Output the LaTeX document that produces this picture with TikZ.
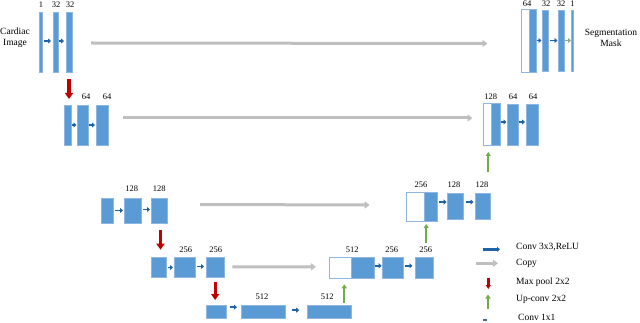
\documentclass[tikz,border=0pt]{standalone}
\usepackage{fontspec}
\setmainfont{Liberation Serif}
\usetikzlibrary{arrows.meta,calc}
\definecolor{barfill}{HTML}{5B9BD5}
\definecolor{baredge}{HTML}{8DB6E2}
\definecolor{convc}{HTML}{1F63A6}
\definecolor{copyc}{HTML}{BFBFBF}
\definecolor{poolc}{HTML}{C00000}
\definecolor{upc}{HTML}{70AD47}
\definecolor{onec}{HTML}{8FB08A}
\newcommand{\blk}[6][bar]{\node[#1, minimum width={(#4-#3)*1pt}, minimum height={(#6-#5)*1pt}] (#2) at ({(#3+#4)/2},{(#5+#6)/2}) {};}
\begin{document}
\begin{tikzpicture}[x=1pt,y=-1pt,
  bar/.style={draw=baredge, fill=barfill, line width=0.6pt, inner sep=0pt, outer sep=0pt, rectangle},
  wbar/.style={draw=baredge, fill=white, line width=0.8pt, inner sep=0pt, outer sep=0pt, rectangle},
  lab/.style={font=\fontsize{8.5}{9}\selectfont, inner sep=0pt},
  txt/.style={font=\fontsize{9.5}{11}\selectfont, inner sep=0pt, align=center},
  ltxt/.style={font=\fontsize{9.5}{11}\selectfont, inner sep=0pt, anchor=west},
  conv/.style={draw=convc, line width=1.8pt, -{Triangle[length=3pt,width=5pt]}},
  one/.style={draw=onec, line width=1.8pt, -{Triangle[length=3pt,width=5pt]}},
  copy/.style={draw=copyc, line width=3pt, -{Triangle[length=5pt,width=7pt]}},
  pool/.style={draw=poolc, line width=3.2pt, -{Triangle[length=6pt,width=8pt]}},
  up/.style={draw=upc, line width=2pt, -{Triangle[length=4pt,width=5pt]}}
]
\useasboundingbox (0,0) rectangle (640,323);

% ---------- level 1 left
\blk{L1a}{39.5}{42}{12}{72}
\blk{L1b}{53}{58.5}{12}{72}
\blk{L1c}{66}{72}{12}{72}
\node[lab] (t1a) at (41,5) {1};
\node[lab] (t1b) at (56,5) {32};
\node[lab] (t1c) at (70,5) {32};
\node[txt] (cin) at (15,37.5) {Cardiac\\Image};
\draw[conv] ($(L1a.east)+(2,-1)$) -- ($(L1b.west)+(-2,-1)$);
\draw[conv] ($(L1b.east)+(0.5,-1)$) -- ($(L1c.west)+(-2,-1)$);

% ---------- level 1 right
\blk[wbar]{R1w}{521.5}{529}{9}{72}
\blk{R1b}{529}{536}{9}{72}
\blk{R1c}{542}{548.5}{10}{71}
\blk{R1d}{558.5}{564.5}{10}{71}
\blk{R1e}{571.5}{573.5}{10}{71}
\node[lab] (t1w) at (527,4) {64};
\node[lab] (t1x) at (546,4) {32};
\node[lab] (t1y) at (561,4) {32};
\node[lab] (t1z) at (572.5,4) {1};
\node[txt] (cout) at (611,37.5) {Segmentation\\Mask};
\draw[conv] ($(R1b.east)+(0.5,0)$) -- ($(R1c.west)+(-0.5,0)$);
\draw[conv] ($(R1c.east)+(1,0)$) -- ($(R1d.west)+(-1,0)$);
\draw[one] ($(R1d.east)+(0.5,0)$) -- ($(R1e.west)+(-0.5,0)$);

% ---------- level 2 left
\blk{L2a}{64}{71}{105}{145}
\blk{L2b}{77}{88}{105}{145}
\blk{L2c}{96}{108}{105}{145}
\node[lab] (t2b) at (86,97) {64};
\node[lab] (t2c) at (107,97) {64};
\draw[conv] ($(L2a.east)+(0.5,0)$) -- ($(L2b.west)+(-0.5,0)$);
\draw[conv] ($(L2b.east)+(1,0)$) -- ($(L2c.west)+(-1,0)$);

% ---------- level 2 right
\blk[wbar]{R2w}{483.5}{491}{103}{145}
\blk{R2b}{491}{500}{103}{145}
\blk{R2c}{507}{518}{104}{145}
\blk{R2d}{526}{538}{104}{145}
\node[lab] (t2w) at (490.7,97) {128};
\node[lab] (t2x) at (513,97) {64};
\node[lab] (t2y) at (533,97) {64};
\draw[conv] ($(R2b.east)+(0.5,-2)$) -- ($(R2c.west)+(-0.5,-2.5)$);
\draw[conv] ($(R2c.east)+(1,-2.5)$) -- ($(R2d.west)+(-1,-2.5)$);

% ---------- level 3 left
\blk{L3a}{101}{113}{198}{223}
\blk{L3b}{124}{141}{198}{223}
\blk{L3c}{151}{167}{198}{223}
\node[lab] (t3b) at (131.7,189) {128};
\node[lab] (t3c) at (159.3,189) {128};
\draw[conv] ($(L3a.east)+(2,0)$) -- ($(L3b.west)+(-1,0)$);
\draw[conv] ($(L3b.east)+(2,-1)$) -- ($(L3c.west)+(-1,-1)$);

% ---------- level 3 right
\blk[wbar]{R3w}{406.7}{424.3}{192}{221}
\blk{R3b}{424.3}{437.7}{192}{221}
\blk{R3c}{447.7}{463.3}{193}{219}
\blk{R3d}{475}{490}{193}{219}
\node[lab] (t3w) at (421,185) {256};
\node[lab] (t3x) at (454,185) {128};
\node[lab] (t3y) at (482,185) {128};
\draw[conv] ($(R3b.east)+(1,-4.5)$) -- ($(R3c.west)+(-1,-4)$);
\draw[conv] ($(R3c.east)+(3,-4)$) -- ($(R3d.west)+(-1.5,-4)$);

% ---------- level 4 left
\blk{L4a}{151.7}{166.7}{257.7}{277.3}
\blk{L4b}{174}{195}{257.7}{277.3}
\blk{L4c}{206}{224.3}{257.7}{277.3}
\node[lab] (t4b) at (185.7,250) {256};
\node[lab] (t4c) at (215.7,250) {256};
\draw[conv] ($(L4a.east)+(1,0)$) -- ($(L4b.west)+(-1,0)$);
\draw[conv] ($(L4b.east)+(2,-1)$) -- ($(L4c.west)+(-2,-1)$);

% ---------- level 4 right
\blk[wbar]{R4w}{329}{351}{257.3}{278.3}
\blk{R4b}{351}{374.3}{257.3}{278.3}
\blk{R4c}{382.7}{403.3}{257.3}{278.3}
\blk{R4d}{415}{433.3}{257.3}{278.3}
\node[lab] (t4w) at (352.3,250) {512};
\node[lab] (t4x) at (391.7,250) {256};
\node[lab] (t4y) at (425.7,250) {256};
\draw[conv] ($(R4b.east)+(0.5,-2)$) -- ($(R4c.west)+(-1,-2)$);
\draw[conv] ($(R4c.east)+(1.5,-2)$) -- ($(R4d.west)+(-2.5,-2)$);

% ---------- level 5
\blk{B1}{206}{226}{305}{318.3}
\blk{B2}{241}{285}{305}{318.3}
\blk{B3}{307.7}{351.7}{305}{318.3}
\node[lab] (t5b) at (262,297) {512};
\node[lab] (t5c) at (327.3,297) {512};
\draw[conv] ($(B1.east)+(4,-4.5)$) -- ($(B2.west)+(-4,-4.5)$);
\draw[conv] ($(B2.east)+(6.5,-1.5)$) -- ($(B3.west)+(-8.5,-1.5)$);

% ---------- copy, pool and up-conv connectors
\draw[copy] ($(L1c.east)+(19,1)$) -- ($(R1w.west)+(-34,3)$);
\draw[copy] ($(L2c.east)+(15,-7)$) -- ($(R2w.west)+(-11,-6)$);
\draw[copy] ($(L3c.east)+(33,-6)$) -- ($(R3w.west)+(-37,-1.5)$);
\draw[copy] ($(L4c.east)+(8,-0.5)$) -- ($(R4w.west)+(-13,-1)$);
\draw[pool] ($(L1c.south)+(0,7)$) -- ($(L1c.south |- L2a.north)+(0,-6)$);
\draw[pool] ($(L3c.south)+(1.5,7)$) -- ($(L3c.south |- L4a.north)+(1.5,-8)$);
\draw[pool] ($(L4c.south)+(0,4.5)$) -- ($(L4c.south |- B1.north)+(0,-5)$);
\draw[up] ($(B3.north)+(14.6,-2.5)$) -- ($(B3.north |- R4w.south)+(14.6,6)$);
\draw[up] ($(R4d.north)+(2,-14)$) -- ($(R4d.north |- R3b.south)+(2,3)$);
\draw[up] ($(R2w.south)+(1,27)$) -- ($(R2w.south)+(1,7)$);

% ---------- legend
\coordinate (g1a) at (482.7,249.3); \coordinate (g1b) at (500,249.3);
\coordinate (g2a) at (476,263.3);   \coordinate (g2b) at (498,263.3);
\coordinate (g3a) at (488.3,277.5); \coordinate (g3b) at (488.3,289);
\coordinate (g4a) at (488,308.5);   \coordinate (g4b) at (488,294.5);
\coordinate (g5a) at (482.5,320);   \coordinate (g5b) at (487.5,320);
\draw[conv, line width=2.6pt] (g1a) -- (g1b);
\draw[copy] (g2a) -- (g2b);
\draw[pool, line width=2.6pt, -{Triangle[length=4pt,width=5pt]}] (g3a) -- (g3b);
\draw[up, line width=1.8pt] (g4a) -- (g4b);
\draw[draw=convc!60!gray, line width=2pt, -{Triangle[length=2pt,width=3pt]}] (g5a) -- (g5b);
\node[ltxt] (l1) at (516,247.5) {Conv 3x3,ReLU};
\node[ltxt] (l2) at (516,263) {Copy};
\node[ltxt] (l3) at (516,282.5) {Max pool 2x2};
\node[ltxt] (l4) at (516,299) {Up-conv 2x2};
\node[ltxt] (l5) at (518,317.5) {Conv 1x1};
\end{tikzpicture}
\end{document}
